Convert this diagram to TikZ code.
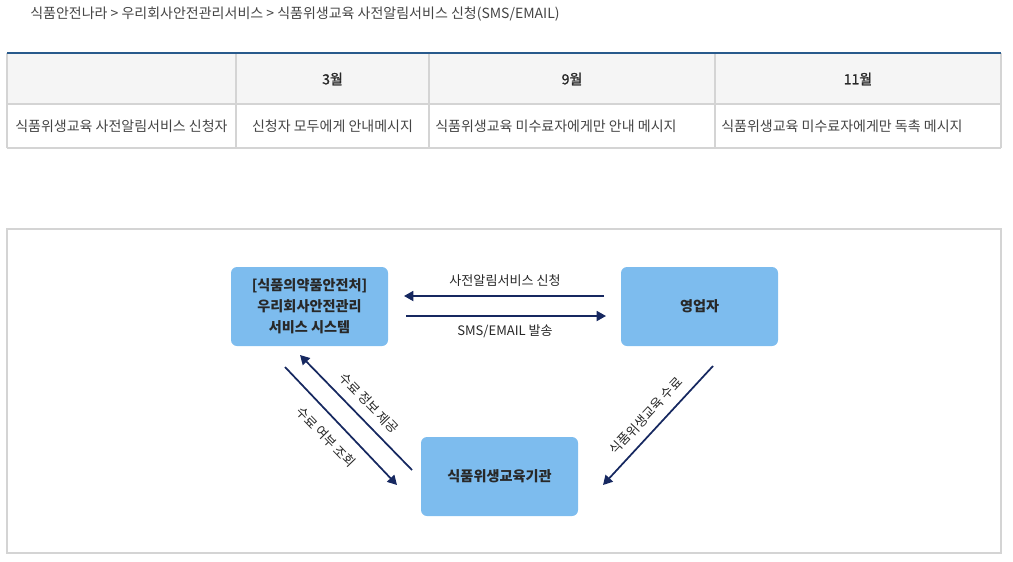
\documentclass[tikz,border=0pt]{standalone}
\usepackage{fontspec}
\setmainfont{Noto Sans CJK KR}
\newfontfamily\medkr[FakeBold=1.2]{Noto Sans CJK KR}
\usetikzlibrary{arrows.meta}
\definecolor{boxblue}{RGB}{125,188,238}
\definecolor{navy}{RGB}{22,40,96}
\definecolor{gridgray}{RGB}{212,212,212}
\definecolor{topline}{RGB}{40,90,140}
\definecolor{headbg}{RGB}{245,245,245}
\definecolor{txt}{RGB}{68,68,68}
\definecolor{boxtxt}{RGB}{40,40,40}
\tikzset{
  flowbox/.style={draw=none, fill=boxblue, rounded corners=4.5pt, minimum width=117.75pt, minimum height=59.25pt, align=center, font=\fontsize{10.6pt}{15.75pt}\selectfont\bfseries, text=boxtxt, inner sep=0pt},
  flow/.style={draw=navy, line width=1.3pt, -{Triangle[length=7pt,width=7.5pt]}},
  flowlabel/.style={font=\fontsize{9.8pt}{12pt}\selectfont, text=boxtxt, inner sep=0pt},
  celltxt/.style={font=\fontsize{10.5pt}{12pt}\selectfont, text=txt, inner sep=0pt},
  headtxt/.style={font=\fontsize{10.5pt}{12pt}\selectfont\medkr, text=boxtxt, inner sep=0pt},
  grid/.style={draw=gridgray, line width=0.9pt}
}
\begin{document}
\begin{tikzpicture}[x=0.75pt,y=-0.75pt]
\useasboundingbox (0,0) rectangle (1013,561);
% breadcrumb
\node[celltxt, anchor=west, text=txt] (crumb) at (30,14) {식품안전나라 > 우리회사안전관리서비스 > 식품위생교육 사전알림서비스 신청(SMS/EMAIL)};
% table
\fill[headbg] (7,53) rectangle (1001,104);
\draw[grid] (7,104) -- (1001,104);
\draw[grid] (7,148) -- (1001,148);
\draw[grid] (7,53) -- (7,148);
\draw[grid] (1001,53) -- (1001,148);
\draw[grid] (236,53) -- (236,148);
\draw[grid] (429,53) -- (429,148);
\draw[grid] (715,53) -- (715,148);
\draw[topline, line width=1pt] (7,53) -- (1001,53);
\node[headtxt] (h3) at (332.5,79) {3월};
\node[headtxt] (h9) at (572,79) {9월};
\node[headtxt] (h11) at (858,79) {11월};
\node[celltxt, anchor=west] (c1) at (15,126) {식품위생교육 사전알림서비스 신청자};
\node[celltxt] (c2) at (332.5,126) {신청자 모두에게 안내메시지};
\node[celltxt, anchor=west] (c3) at (435,126) {식품위생교육 미수료자에게만 안내 메시지};
\node[celltxt, anchor=west] (c4) at (721,126) {식품위생교육 미수료자에게만 독촉 메시지};
% frame
\draw[grid] (7,229) rectangle (1001,553);
% boxes
\node[flowbox] (sys) at (309.5,306.5) {[식품의약품안전처]\\우리회사안전관리\\서비스 시스템};
\node[flowbox] (biz) at (699.5,306.5) {영업자};
\node[flowbox] (edu) at (499.5,476.5) {식품위생교육기관};
% connector ends
\coordinate (a1s) at (604,296); \coordinate (a1e) at (404,296);
\coordinate (a2s) at (406,316); \coordinate (a2e) at (606,316);
\coordinate (a3s) at (412,470); \coordinate (a3e) at (300,355);
\coordinate (a4s) at (285,367); \coordinate (a4e) at (397,485);
\coordinate (a5s) at (713,366); \coordinate (a5e) at (603,485);
\draw[flow] (a1s) -- (a1e);
\draw[flow] (a2s) -- (a2e);
\draw[flow] (a3s) -- (a3e);
\draw[flow] (a4s) -- (a4e);
\draw[flow] (a5s) -- (a5e);
% labels
\node[flowlabel] (l1) at (505,281) {사전알림서비스 신청};
\node[flowlabel] (l2) at (505,331) {SMS/EMAIL 발송};
\node[flowlabel, rotate=-46] (l3) at (369,403) {수료 정보 제공};
\node[flowlabel, rotate=-46] (l4) at (326,437) {수료 여부 조회};
\node[flowlabel, rotate=47] (l5) at (646,416) {식품위생교육 수료};
\end{tikzpicture}
\end{document}
